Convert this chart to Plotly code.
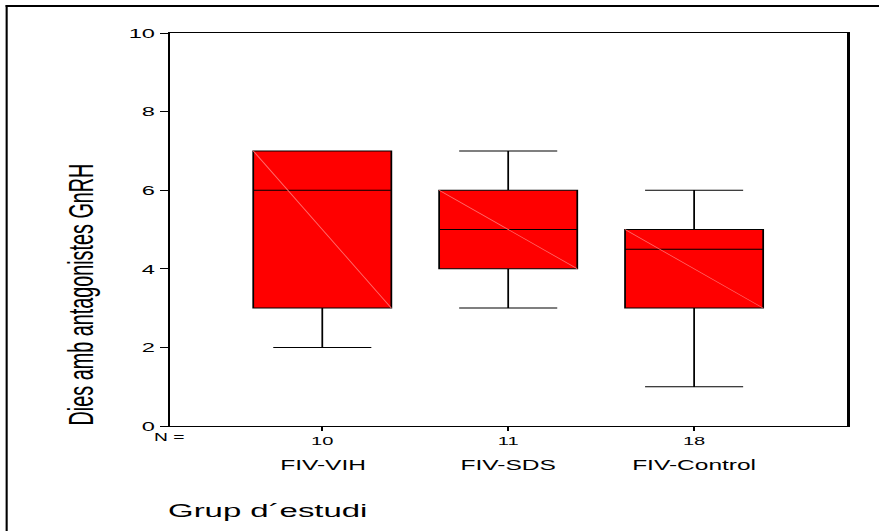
import plotly.graph_objects as go

# Study groups and their sample sizes
groups = ["FIV-VIH", "FIV-SDS", "FIV-Control"]
n_values = [10, 11, 18]

# Box-plot summary statistics (days on GnRH antagonists)
q1 = [3, 4, 3]
median = [6, 5, 4.5]
q3 = [7, 6, 5]
lower_whisker = [2, 3, 1]
upper_whisker = [7, 7, 6]

y_ticks = [0, 2, 4, 6, 8, 10]

# The figure is laid out narrow and then stretched horizontally on the page,
# giving the wide lettering and heavy vertical strokes of the SPSS export.
STRETCH = 1.751
W, H = 502, 531
ML, MR, MT, MB = 97.1, 18.3, 33, 105
PW, PH = W - ML - MR, H - MT - MB

BOX_W = 0.743
FONT = "Liberation Sans, Arial, Helvetica, sans-serif"

positions = list(range(len(groups)))

fig = go.Figure()

fig.add_trace(go.Box(
    x=positions,
    q1=q1, median=median, q3=q3,
    lowerfence=lower_whisker, upperfence=upper_whisker,
    width=BOX_W,
    whiskerwidth=0.71,
    fillcolor="#ff0000",
    line=dict(color="#000000", width=1.0),
    boxpoints=False,
    hoverinfo="skip",
    showlegend=False,
))

# Faint diagonal seams across each filled box
for i, p in enumerate(positions):
    fig.add_trace(go.Scatter(
        x=[p - BOX_W / 2, p + BOX_W / 2],
        y=[q3[i], q1[i]],
        mode="lines",
        line=dict(color="#ff6e6e", width=0.6),
        hoverinfo="skip",
        showlegend=False,
    ))


def px_to_paper_x(px):
    return (px - ML) / PW


def px_to_paper_y(py):
    return (MT + PH - py) / PH


annotations = []
# Group names under the N counts
for p, g in zip(positions, groups):
    annotations.append(dict(
        x=p, xref="x", y=px_to_paper_y(465), yref="paper",
        text=g, showarrow=False, xanchor="center", yanchor="middle",
        font=dict(family=FONT, size=14, color="#000000"),
    ))
# "N =" row label
annotations.append(dict(
    x=px_to_paper_x(107.5), xref="paper", y=px_to_paper_y(437), yref="paper",
    text="N =", showarrow=False, xanchor="right", yanchor="middle",
    font=dict(family=FONT, size=11, color="#000000"),
))
# x-axis title
annotations.append(dict(
    x=px_to_paper_x(94.0), xref="paper", y=px_to_paper_y(511), yref="paper",
    text="Grup d´estudi", showarrow=False, xanchor="left", yanchor="middle",
    font=dict(family=FONT, size=18.8, color="#000000"),
))
# y-axis title
annotations.append(dict(
    x=px_to_paper_x(46.0), xref="paper", y=px_to_paper_y(294.5), yref="paper",
    text="Dies amb antagonistes GnRH", textangle=-90, showarrow=False,
    xanchor="center", yanchor="middle",
    font=dict(family=FONT, size=19.8, color="#000000"),
))

# Outer frame (top and left edges)
shapes = [
    dict(type="line", xref="paper", yref="paper",
         x0=px_to_paper_x(3.4), x1=px_to_paper_x(W + 2),
         y0=px_to_paper_y(6), y1=px_to_paper_y(6),
         line=dict(color="#000000", width=2.2)),
    dict(type="line", xref="paper", yref="paper",
         x0=px_to_paper_x(4.0), x1=px_to_paper_x(4.0),
         y0=px_to_paper_y(5), y1=px_to_paper_y(H + 2),
         line=dict(color="#000000", width=1.2)),
]

fig.update_layout(
    width=W, height=H, autosize=False,
    margin=dict(l=ML, r=MR, t=MT, b=MB, pad=0),
    paper_bgcolor="#ffffff", plot_bgcolor="#ffffff",
    font=dict(family=FONT, color="#000000"),
    annotations=annotations,
    shapes=shapes,
    showlegend=False,
)

fig.update_xaxes(
    range=[-0.82, 2.825],
    tickmode="array", tickvals=positions, ticktext=[str(n) for n in n_values],
    ticks="outside", ticklen=4, tickwidth=1, tickcolor="#000000",
    tickfont=dict(family=FONT, size=11.5, color="#000000"),
    showline=True, linecolor="#000000", linewidth=1.2, mirror=True,
    showgrid=False, zeroline=False, fixedrange=True,
)
fig.update_yaxes(
    range=[0, 10],
    tickmode="array", tickvals=y_ticks, ticktext=[str(v) for v in y_ticks],
    ticks="outside", ticklen=4.6, tickwidth=1, tickcolor="#000000",
    tickfont=dict(family=FONT, size=13.5, color="#000000"),
    showline=True, linecolor="#000000", linewidth=1.2, mirror=True,
    showgrid=False, zeroline=False, fixedrange=True,
)

stretch_js = (
    "document.body.style.margin='0';"
    "var gd=document.getElementById('{plot_id}');"
    "gd.style.transformOrigin='0 0';"
    "gd.style.transform='scaleX(%s)';" % STRETCH
)

fig.write_html("out.html", post_script=stretch_js,
               config={"displayModeBar": False, "staticPlot": True})
